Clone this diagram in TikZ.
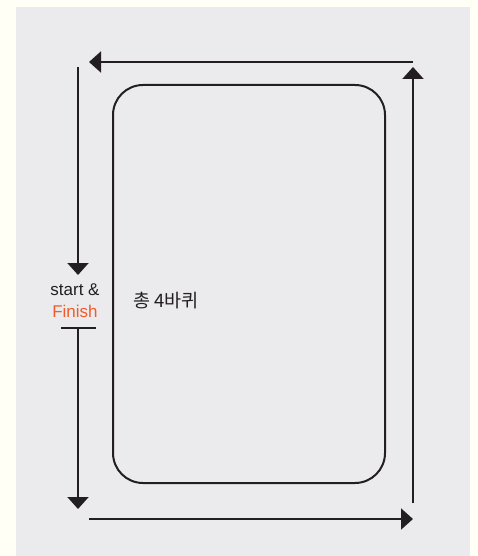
\documentclass[tikz,border=0pt]{standalone}
\usepackage{fontspec}
\setmainfont{Liberation Sans}
\newfontfamily\krfont{Noto Sans CJK KR}
\usetikzlibrary{arrows.meta,positioning}
\definecolor{cream}{HTML}{FFFFF6}
\definecolor{panel}{HTML}{EBEBED}
\definecolor{ink}{HTML}{231F20}
\definecolor{finish}{HTML}{F15A2B}

\begin{document}
\begin{tikzpicture}
	[x=1pt,y=-1pt,
	track/.style={draw=ink,line width=2pt,-{Triangle[length=12pt,width=21pt]}},
	main text/.style={font=\fontsize{17}{20}\selectfont,text=ink,inner sep=0pt}]
	\fill[cream] (0,0) rectangle (477,556);
	\fill[panel] (16,7) rectangle (470,556);
	\draw[ink,line width=2pt,rounded corners=30pt] (113,85) rectangle (385,483);
	
	\coordinate (tr) at (413,62);
	\coordinate (tl) at (89,62);
	\coordinate (lt) at (78,67);
	\coordinate (lm) at (78,275);
	\coordinate (bl) at (61,328);
	\coordinate (br) at (96,328);
	\coordinate (lb) at (78,328);
	\coordinate (ld) at (78,509);
	\coordinate (bs) at (89,519);
	\coordinate (be) at (413,519);
	\coordinate (rb) at (413,503);
	\coordinate (rt) at (413,67);
	
	\node [main text] (start) at (75,290) {start \&};
	\node [main text,text=finish] (finish) at (75,311) {Finish};
	\node [main text,font=\krfont\fontsize{18.5}{22}\selectfont] (laps) at (166,301) {총 4바퀴};
	
	\draw[track] (tr) -- (tl);
	\draw[track] (lt) -- (lm);
	\draw[track] (lb) -- (ld);
	\draw[track] (bs) -- (be);
	\draw[track] (rb) -- (rt);
	\draw[ink,line width=2pt] (bl) -- (br);
	
\end{tikzpicture}
\end{document}
